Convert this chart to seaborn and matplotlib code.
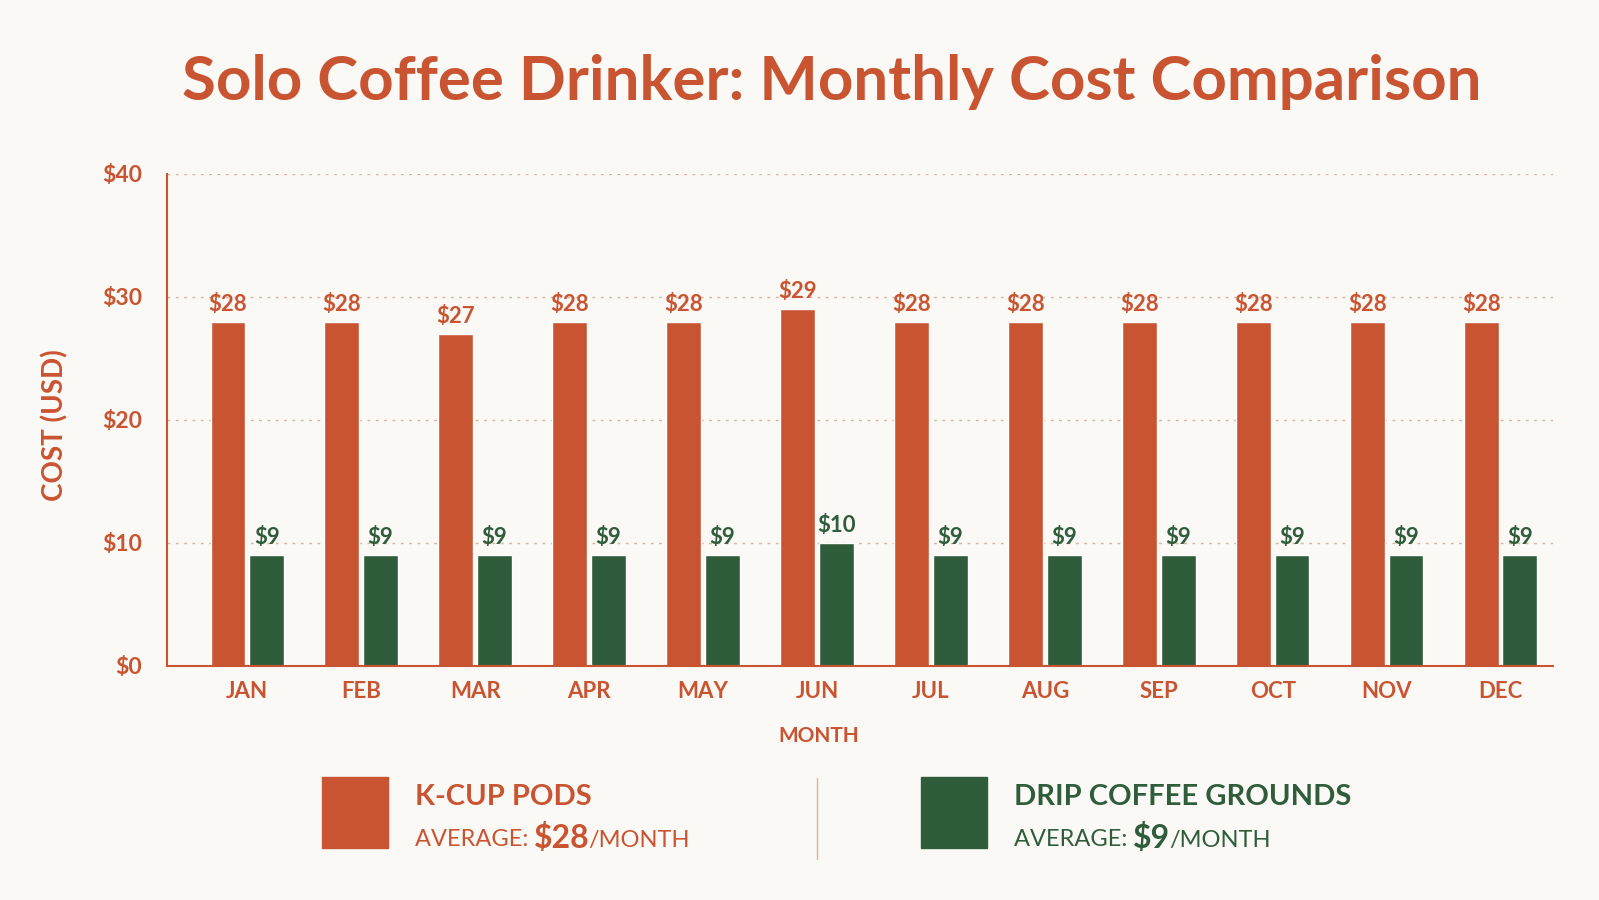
import pandas as pd
import numpy as np
import seaborn as sns
import matplotlib.pyplot as plt
from matplotlib.patches import Rectangle
from matplotlib.lines import Line2D

months = ["JAN", "FEB", "MAR", "APR", "MAY", "JUN", "JUL", "AUG", "SEP", "OCT", "NOV", "DEC"]
kcup = [28, 28, 27, 28, 28, 29, 28, 28, 28, 28, 28, 28]
drip = [9, 9, 9, 9, 9, 10, 9, 9, 9, 9, 9, 9]
series = ["K-CUP PODS", "DRIP COFFEE GROUNDS"]

ORANGE = "#C95432"
GREEN = "#2F5D3C"
BG = "#FBF9F5"

df = pd.DataFrame({
    "month": months * 2,
    "cost": kcup + drip,
    "type": [series[0]] * 12 + [series[1]] * 12,
})

sns.set_theme(style="white")
plt.rcParams['font.family'] = ['Lato', 'DejaVu Sans']

fig = plt.figure(figsize=(15.99, 9), dpi=100, facecolor=BG)
ax = fig.add_axes([0.1044, 0.26, 0.8668, 0.5467])
ax.set_facecolor(BG)

sns.barplot(data=df, x="month", y="cost", hue="type", palette=[ORANGE, GREEN],
            width=0.68, gap=0.1, saturation=1, legend=False, ax=ax)

for cont, col in zip(ax.containers, [ORANGE, GREEN]):
    ax.bar_label(cont, labels=["$%d" % v for v in cont.datavalues], padding=5,
                 color=col, fontsize=16, fontweight="bold")

ax.set_ylim(0, 40)
ax.set_xlim(-0.706, 11.46)
ax.set_yticks([0, 10, 20, 30, 40])
ax.set_yticklabels(["$%d" % v for v in [0, 10, 20, 30, 40]], color=ORANGE,
                   fontsize=16.5, fontweight="bold")
ax.tick_params(axis="x", labelsize=16, labelcolor=ORANGE, pad=11, length=0)
for t in ax.get_xticklabels():
    t.set_fontweight("bold")
ax.tick_params(axis="y", pad=18, length=0)
for y in [10, 20, 30, 40]:
    ax.axhline(y, color="#D9B3A3", lw=1, ls=(0, (2, 4)), zorder=0)
for s in ["top", "right"]:
    ax.spines[s].set_visible(False)
for s in ["left", "bottom"]:
    ax.spines[s].set_color(ORANGE)
    ax.spines[s].set_linewidth(1.5)
ax.set_xlabel("MONTH", color=ORANGE, fontsize=15, fontweight="bold")
ax.xaxis.set_label_coords(0.47, -0.122)
ax.set_ylabel("COST (USD)", color=ORANGE, fontsize=20, fontweight="bold")
ax.yaxis.set_label_coords(-0.071, 0.49)

fig.text(0.52, 0.909, "Solo Coffee Drinker: Monthly Cost Comparison", ha="center", va="center",
         fontsize=44.5, fontweight="bold", color=ORANGE)

# legend block at the bottom
avgs = [round(np.mean(kcup)), round(np.mean(drip))]
for i, (name, col, avg) in enumerate(zip(series, [ORANGE, GREEN], avgs)):
    x0 = [322, 921][i] / 1599
    fig.patches.append(Rectangle((x0, 1 - 848 / 900), 66 / 1599, 71 / 900,
                                 transform=fig.transFigure, color=col))
    tx = x0 + 93 / 1599
    fig.text(tx, 1 - 797 / 900, name, ha="left", va="center", fontsize=21,
             fontweight="bold", color=col)
    t1 = fig.text(tx, 1 - 840 / 900, "AVERAGE: ", ha="left", va="center", fontsize=17, color=col)
    fig.canvas.draw()
    bb = t1.get_window_extent()
    t2 = fig.text(bb.x1 / 1599, 1 - 838 / 900, "$%d" % avg, ha="left", va="center",
                  fontsize=23, fontweight="bold", color=col)
    bb2 = t2.get_window_extent(fig.canvas.get_renderer())
    fig.text(bb2.x1 / 1599 - 0.001, 1 - 840 / 900, "/MONTH", ha="left", va="center",
             fontsize=17, color=col)

fig.add_artist(Line2D([817 / 1599, 817 / 1599], [1 - 859 / 900, 1 - 778 / 900],
                      color="#D9B3A3", lw=1, transform=fig.transFigure))

fig.savefig("out.png", dpi=100, facecolor=BG)
